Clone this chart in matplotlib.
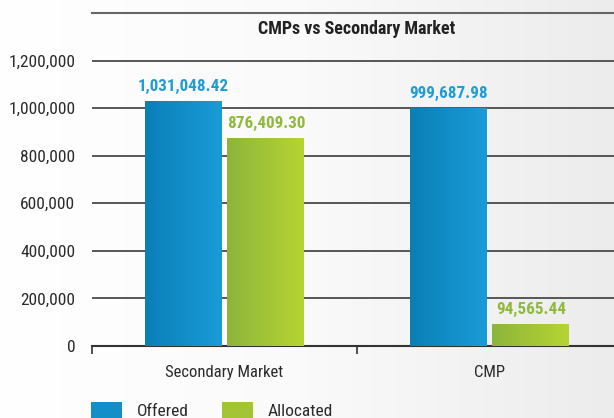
import numpy as np
import matplotlib
matplotlib.use("Agg")
import matplotlib.pyplot as plt
from matplotlib.colors import LinearSegmentedColormap
from matplotlib.patches import Patch

plt.rcParams['font.family'] = ['Roboto Condensed', 'Archivo Narrow', 'DejaVu Sans']

categories = ["Secondary Market", "CMP"]
series_names = ["Offered", "Allocated"]
offered = [1031048.42, 999687.98]
allocated = [876409.30, 94565.44]
value_labels_offered = ["1,031,048.42", "999,687.98"]
value_labels_allocated = ["876,409.30", "94,565.44"]
yticks = [0, 200000, 400000, 600000, 800000, 1000000, 1200000]
ytick_labels = ["0", "200,000", "400,000", "600,000", "800,000", "1,000,000", "1,200,000"]
title = "CMPs vs Secondary Market"

W, H = 614, 418
fig = plt.figure(figsize=(W / 100, H / 100), dpi=100)

# background gradient
bg = fig.add_axes([0, 0, 1, 1], zorder=-10)
bg_cmap = LinearSegmentedColormap.from_list("bg", ["#ffffff", "#fafafa", "#ececed"])
bg.imshow(np.linspace(0, 1, 256)[None, :], cmap=bg_cmap, aspect="auto", extent=[0, 1, 0, 1])
bg.set_axis_off()

ax_l, ax_r, ax_t, ax_b = 92, 622, 13, 346
ax = fig.add_axes([ax_l / W, (H - ax_b) / H, (ax_r - ax_l) / W, (ax_b - ax_t) / H])
ax.set_facecolor("none")

blue_cmap = LinearSegmentedColormap.from_list("blue", ["#0a7fb6", "#1a9bd8"])
green_cmap = LinearSegmentedColormap.from_list("green", ["#8db53c", "#b6d431"])

x = np.arange(len(categories)) + 0.5
bw = 0.29
off = 0.156

def grad_bars(xs, vals, cmap, base_color):
    bars = ax.bar(xs, vals, width=bw, color=base_color, zorder=3, linewidth=0)
    for b in bars:
        x0, y0 = b.get_x(), b.get_y()
        im = ax.imshow(np.linspace(0, 1, 128)[None, :], cmap=cmap, aspect="auto",
                       extent=[x0, x0 + b.get_width(), y0, y0 + b.get_height()], zorder=4)
        im.set_clip_path(b)
    return bars

b1 = grad_bars(x - off, offered, blue_cmap, "#128ec8")
b2 = grad_bars(x + off, allocated, green_cmap, "#a3c535")
ax.set_xlim(0, 2)
ax.set_ylim(0, 1400000)

for xi, v, s in zip(x - off, offered, value_labels_offered):
    ax.annotate(s, (xi, v), xytext=(0, 5), textcoords="offset points", ha="center", va="bottom",
                color="#1f9cd8", fontsize=12.3, fontweight="bold", zorder=5)
for xi, v, s in zip(x + off, allocated, value_labels_allocated):
    ax.annotate(s, (xi, v), xytext=(0, 5), textcoords="offset points", ha="center", va="bottom",
                color="#8fb93c", fontsize=12.3, fontweight="bold", zorder=5)

# grid
ax.set_yticks(yticks)
ax.set_yticklabels(ytick_labels)
ax.yaxis.grid(True, color="#4a4a4a", linewidth=1.3, zorder=1)
ax.set_axisbelow(True)
ax.tick_params(axis="y", length=0, pad=12, labelsize=12.5, labelcolor="#2a2a2a")

ax.set_xticks(x)
ax.set_xticklabels(categories)
ax.set_xticks([0, 1, 2], minor=True)
ax.tick_params(axis="x", which="major", length=0, pad=14, labelsize=12, labelcolor="#2a2a2a")
ax.tick_params(axis="x", which="minor", length=6, width=1.2, color="#333333")

for s in ["left", "right"]:
    ax.spines[s].set_visible(False)
ax.spines["top"].set_color("#666666")
ax.spines["top"].set_linewidth(1.5)
ax.spines["bottom"].set_color("#333333")
ax.spines["bottom"].set_linewidth(1.5)

ax.text(0.5 * (ax_l + ax_r) / W, 1 - 29.5 / H, title, transform=fig.transFigure,
        ha="center", va="center", fontsize=13, fontweight="bold", color="#222222")

handles = [Patch(facecolor="#128ec8", linewidth=0), Patch(facecolor="#a3c535", linewidth=0)]
fig.legend(handles, series_names, loc="upper left", bbox_to_anchor=(91 / W, 1 - 402 / H),
           ncol=2, frameon=False, fontsize=12.5, handlelength=1.8, handleheight=1.0,
           handletextpad=0.85, columnspacing=1.9, borderpad=0, borderaxespad=0,
           labelcolor="#2a2a2a")

fig.savefig("out.png", dpi=100)
